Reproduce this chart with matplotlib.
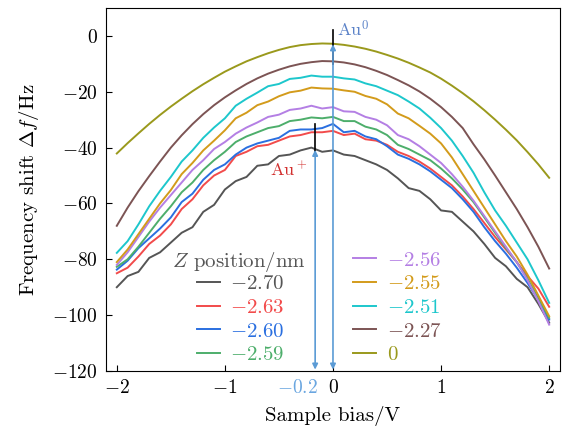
import numpy as np
import matplotlib
matplotlib.use('Agg')
import matplotlib.pyplot as plt
from matplotlib.lines import Line2D
import matplotlib.transforms as mtransforms

plt.rcParams['font.family'] = 'serif'
plt.rcParams['font.serif'] = ['cmr10']
plt.rcParams['mathtext.fontset'] = 'cm'
plt.rcParams['axes.formatter.use_mathtext'] = True
plt.rcParams['axes.unicode_minus'] = True

# Sample bias (V)
bias = np.round(np.arange(-2.0, 2.01, 0.1), 1)

# Frequency shift (Hz) for each Z position (nm)
df_270 = [-90.0, -86.0, -84.5, -79.5, -77.5, -74.0, -70.5, -68.5, -63.0, -60.5, -55.0,
          -52.0, -50.5, -46.5, -46.0, -43.0, -42.5, -41.0, -40.0, -41.5, -41.0,
          -42.5, -43.0, -44.5, -46.0, -48.0, -51.0, -54.5, -55.5, -58.5, -62.5,
          -63.0, -66.5, -70.0, -74.5, -79.5, -82.5, -87.0, -90.0, -96.0, -102.7]
df_263 = [-85.0, -83.0, -79.0, -74.5, -71.5, -67.5, -62.0, -58.5, -53.5, -50.0, -48.0,
          -43.0, -41.5, -39.5, -39.0, -37.5, -36.0, -35.5, -34.5, -34.5, -34.0,
          -35.5, -35.0, -37.0, -37.5, -39.0, -41.5, -43.0, -45.0, -47.5, -50.5,
          -53.5, -57.5, -62.0, -67.0, -72.0, -76.5, -81.0, -86.0, -90.5, -97.0]
df_260 = [-83.7, -80.5, -76.0, -72.5, -69.0, -65.0, -59.5, -56.5, -51.5, -48.0, -46.0,
          -42.5, -40.0, -38.5, -37.5, -36.5, -34.0, -33.5, -33.5, -33.0, -31.5,
          -34.5, -34.0, -36.0, -37.0, -39.5, -42.5, -44.0, -46.0, -48.5, -51.5,
          -54.5, -58.5, -63.0, -68.5, -73.5, -78.0, -83.0, -88.5, -94.5, -101.6]
df_259 = [-82.7, -80.0, -75.5, -70.5, -65.5, -61.0, -56.0, -52.5, -48.0, -44.5, -41.5,
          -38.0, -36.0, -34.5, -33.0, -32.3, -30.5, -30.0, -29.2, -29.5, -29.0,
          -30.5, -30.5, -32.5, -33.5, -35.5, -39.0, -40.5, -42.5, -44.5, -47.5,
          -51.0, -55.0, -59.5, -65.0, -70.5, -76.0, -81.0, -87.0, -94.0, -101.0]
df_256 = [-82.0, -77.5, -72.0, -66.5, -61.5, -57.0, -52.5, -48.0, -44.5, -40.5, -38.0,
          -35.0, -32.8, -31.0, -29.0, -28.2, -26.5, -26.0, -25.0, -26.0, -25.5,
          -27.0, -27.2, -29.0, -30.0, -32.0, -35.5, -37.0, -39.5, -42.5, -45.5,
          -49.5, -54.0, -59.0, -64.5, -70.0, -75.5, -81.0, -87.5, -95.0, -103.4]
df_255 = [-81.0, -76.5, -71.0, -65.5, -60.0, -55.2, -49.5, -45.5, -41.0, -37.5, -33.8,
          -29.5, -27.5, -24.8, -23.5, -21.6, -20.2, -19.6, -18.5, -18.8, -18.9,
          -19.5, -20.0, -21.5, -22.5, -24.5, -27.8, -29.5, -32.2, -35.0, -38.5,
          -43.5, -49.5, -55.5, -61.5, -67.5, -73.5, -79.0, -85.5, -93.0, -100.4]
df_251 = [-77.7, -73.5, -67.5, -61.0, -55.5, -50.5, -45.0, -41.0, -36.5, -32.8, -29.5,
          -25.0, -22.5, -20.3, -18.0, -17.2, -15.4, -15.0, -14.2, -14.6, -14.6,
          -15.2, -15.6, -17.0, -18.0, -19.6, -21.2, -23.5, -26.0, -29.3, -33.0,
          -37.5, -43.0, -49.0, -56.0, -62.5, -68.0, -74.0, -80.0, -87.5, -95.6]
df_227 = [-68.0, -61.5, -55.6, -50.2, -45.0, -40.0, -35.6, -31.6, -28.0, -24.8, -22.0,
          -19.5, -17.2, -15.2, -13.5, -12.1, -10.9, -10.0, -9.4, -9.0, -9.1,
          -9.5, -10.2, -11.2, -12.5, -14.0, -15.8, -17.7, -19.9, -22.5, -25.5,
          -29.0, -33.0, -38.8, -44.2, -50.0, -56.0, -62.0, -68.5, -75.5, -83.3]
df_0 = [-42.1, -38.4, -34.9, -31.5, -28.3, -25.3, -22.5, -19.8, -17.3, -15.0, -12.8,
        -10.9, -9.1, -7.6, -6.2, -5.0, -4.0, -3.3, -2.9, -2.7, -2.8,
        -3.2, -3.8, -4.6, -5.6, -6.8, -8.1, -9.6, -11.3, -13.1, -15.3,
        -17.8, -20.5, -23.4, -26.6, -30.0, -33.6, -37.4, -41.6, -46.0, -50.8]

z_labels = ['$-2.70$', '$-2.63$', '$-2.60$', '$-2.59$', '$-2.56$',
            '$-2.55$', '$-2.51$', '$-2.27$', '$0$']
series = [df_270, df_263, df_260, df_259, df_256, df_255, df_251, df_227, df_0]
colors = ['#555555', '#F24B4B', '#2A6FE0', '#4DAE6B', '#B47FE4',
          '#D39B1B', '#1DC7CC', '#7C5454', '#9A991C']

# peak positions marked with arrows
au0_bias, au0_peak = 0.0, -3.0
aup_bias, aup_peak = -0.165, -40.8

fig = plt.figure(figsize=(5.62, 4.28), dpi=100)
ax = fig.add_axes([0.1886, 0.1332, 0.8078, 0.8481])

for y, c in zip(series, colors):
    ax.plot(bias, y, color=c, lw=1.4)

arrow_col = '#5B9BD5'
for xb, yp in [(au0_bias, au0_peak), (aup_bias, aup_peak)]:
    ax.annotate('', xy=(xb, yp), xytext=(xb, -119.5),
                arrowprops=dict(arrowstyle='<|-|>', color=arrow_col, lw=1.2,
                                shrinkA=0, shrinkB=0, mutation_scale=8))
ax.plot([au0_bias, au0_bias], [2.3, -10.2], color='k', lw=1.2)
ax.plot([aup_bias, aup_bias], [-31.7, -41.8], color='k', lw=1.2)

ax.text(0.04, 2.6, 'Au$^0$', color='#5B82C8', fontsize=13, ha='left', va='center')
ax.text(-0.58, -47.8, 'Au$^+$', color='#D2302F', fontsize=13, ha='left', va='center')

ax.set_xlim(-2.1, 2.1)
ax.set_ylim(-120, 10)
ax.set_xticks([-2, -1, 0, 1, 2])
ax.set_yticks([0, -20, -40, -60, -80, -100, -120])
ax.tick_params(direction='in', length=4, labelsize=14, pad=6)
ax.set_xlabel('Sample bias/V', fontsize=15, labelpad=6)
ax.set_ylabel(r'Frequency shift $\Delta f$/Hz', fontsize=15, labelpad=8)

# blue tick-like label under the Au+ arrow
trans = mtransforms.blended_transform_factory(ax.transData, ax.transAxes)
ax.text(-0.14, -8.3 / 363, '$-0.2$', color='#6AA6E0', fontsize=14,
        ha='right', va='top', transform=trans)

handles = [Line2D([], [], color='none')]
labels = ['']
for lab, c in zip(z_labels, colors):
    handles.append(Line2D([], [], color=c, lw=1.4))
    labels.append(lab)
leg = ax.legend(handles, labels, ncol=2, frameon=False, loc='upper left',
                bbox_to_anchor=(0.200, 0.330), borderaxespad=0, borderpad=0,
                handlelength=1.1, handletextpad=0.5, columnspacing=3.3,
                labelspacing=0.24, fontsize=15)
for txt, c in zip(leg.get_texts()[1:], colors):
    txt.set_color(c)
ax.text(-1.49, -80.8, '$Z$ position/nm', color='#555555', fontsize=15,
        ha='left', va='center')

fig.savefig('out.png', dpi=100)
